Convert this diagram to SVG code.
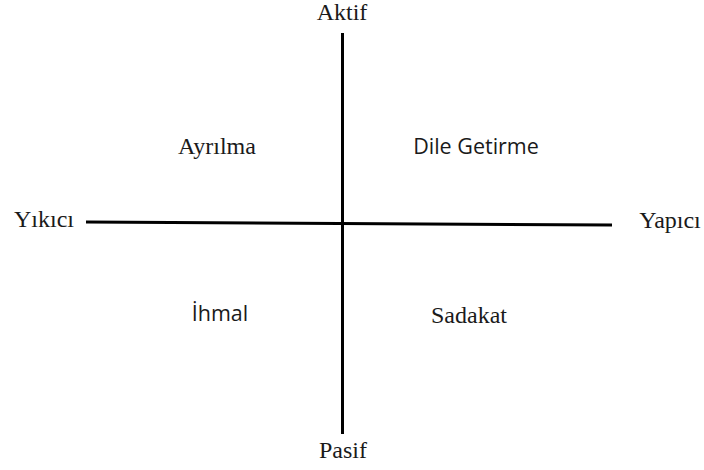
<svg xmlns="http://www.w3.org/2000/svg" width="704" height="470" viewBox="0 0 704 470">
<style>
.s{font-family:"Liberation Serif","Times New Roman",serif;font-size:24px;fill:#1a1a1a}
.a{font-family:"Open Sans","Liberation Sans",sans-serif;font-size:21.5px;fill:#1a1a1a}
.ax{stroke:#000;stroke-width:3;fill:none}
</style>
<rect width="704" height="470" fill="#fff"/>
<g id="connectors">
<line class="ax" x1="342.5" y1="33" x2="342.5" y2="434"/>
<line class="ax" x1="86" y1="222" x2="612" y2="225"/>
</g>
<g id="aktif"><text class="s" x="342" y="20" text-anchor="middle">Aktif</text></g>
<g id="pasif"><text class="s" x="343" y="458" text-anchor="middle">Pasif</text></g>
<g id="yikici"><text class="s" x="44" y="227" text-anchor="middle">Yıkıcı</text></g>
<g id="yapici"><text class="s" x="670" y="228" text-anchor="middle">Yapıcı</text></g>
<g id="ayrilma"><text class="s" x="217" y="154" text-anchor="middle">Ayrılma</text></g>
<g id="dile"><text class="a" x="476" y="154" text-anchor="middle">Dile Getirme</text></g>
<g id="ihmal"><text class="a" x="220" y="321" text-anchor="middle">İhmal</text></g>
<g id="sadakat"><text class="s" x="469" y="323" text-anchor="middle">Sadakat</text></g>
</svg>
